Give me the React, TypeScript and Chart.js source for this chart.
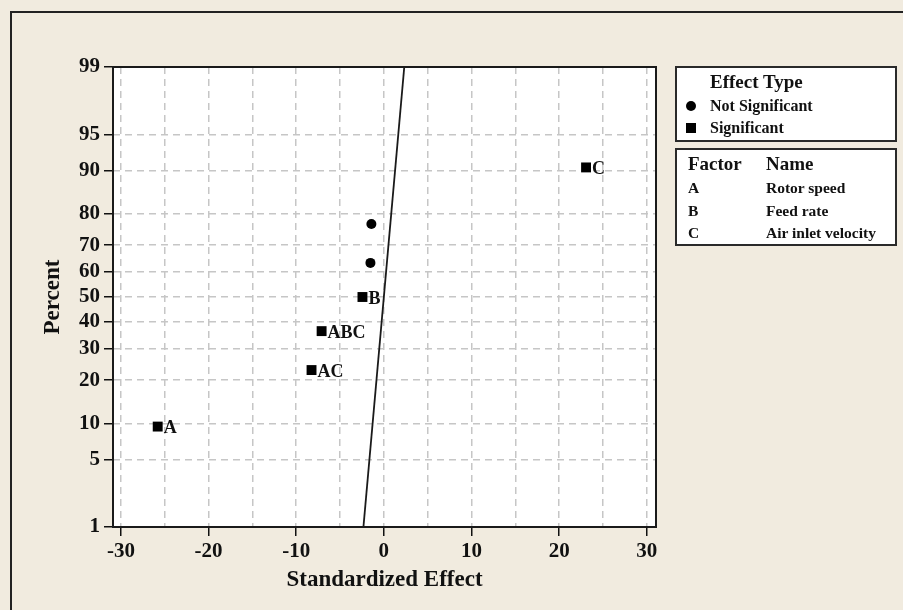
import React, { useEffect, useRef } from 'react';
import { Chart, registerables } from 'chart.js';
Chart.register(...registerables);

// ---- data ----
const sigLabels = ['A', 'AC', 'ABC', 'B', 'C'];
const sigEffects = [-25.8, -8.25, -7.1, -2.44, 23.07];
const sigPercents = [9.5, 23, 36.5, 50, 90.5];
const nsEffects = [-1.53, -1.42];
const nsPercents = [63.5, 77];
const lineEffects = [-2.33, 2.33];
const linePercents = [1, 99];
const yTickPercents = [1, 5, 10, 20, 30, 40, 50, 60, 70, 80, 90, 95, 99];
const xTickValues = [-30, -25, -20, -15, -10, -5, 0, 5, 10, 15, 20, 25, 30];
const factorCodes = ['A', 'B', 'C'];
const factorNames = ['Rotor speed', 'Feed rate', 'Air inlet velocity'];

const SERIF = '"Liberation Serif", "Times New Roman", serif';
const INK = '#111';

// inverse normal CDF (Acklam) for the probability axis
function probit(p: number): number {
  const a = [-3.969683028665376e1, 2.209460984245205e2, -2.759285104469687e2, 1.38357751867269e2, -3.066479806614716e1, 2.506628277459239];
  const b = [-5.447609879822406e1, 1.615858368580409e2, -1.556989798598866e2, 6.680131188771972e1, -1.328068155288572e1];
  const c = [-7.784894002430293e-3, -3.223964580411365e-1, -2.400758277161838, -2.549732539343734, 4.374664141464968, 2.938163982698783];
  const d = [7.784695709041462e-3, 3.224671290700398e-1, 2.445134137142996, 3.754408661907416];
  const pl = 0.02425;
  if (p < pl) {
    const q = Math.sqrt(-2 * Math.log(p));
    return (((((c[0] * q + c[1]) * q + c[2]) * q + c[3]) * q + c[4]) * q + c[5]) / ((((d[0] * q + d[1]) * q + d[2]) * q + d[3]) * q + 1);
  }
  if (p <= 1 - pl) {
    const q = p - 0.5;
    const r = q * q;
    return ((((((a[0] * r + a[1]) * r + a[2]) * r + a[3]) * r + a[4]) * r + a[5]) * q) / (((((b[0] * r + b[1]) * r + b[2]) * r + b[3]) * r + b[4]) * r + 1);
  }
  const q = Math.sqrt(-2 * Math.log(1 - p));
  return -(((((c[0] * q + c[1]) * q + c[2]) * q + c[3]) * q + c[4]) * q + c[5]) / ((((d[0] * q + d[1]) * q + d[2]) * q + d[3]) * q + 1);
}

const areaPlugin = {
  id: 'areaFrame',
  beforeDraw(chart: any) {
    const { ctx, chartArea: a } = chart;
    ctx.save();
    ctx.fillStyle = '#ffffff';
    ctx.fillRect(a.left, a.top, a.right - a.left, a.bottom - a.top);
    ctx.restore();
  },
  afterDraw(chart: any) {
    const { ctx, chartArea: a } = chart;
    ctx.save();
    ctx.strokeStyle = '#1a1a1a';
    ctx.lineWidth = 2;
    ctx.strokeRect(a.left, a.top, a.right - a.left, a.bottom - a.top);
    ctx.restore();
  },
};

const labelPlugin = {
  id: 'pointLabels',
  afterDatasetsDraw(chart: any) {
    const meta = chart.getDatasetMeta(2);
    const ctx = chart.ctx;
    ctx.save();
    ctx.font = `bold 18px ${SERIF}`;
    ctx.fillStyle = INK;
    ctx.textAlign = 'left';
    ctx.textBaseline = 'middle';
    meta.data.forEach((el: any, i: number) => {
      ctx.fillText(sigLabels[i], el.x + 6, el.y + 2);
    });
    ctx.restore();
  },
};

export default function App() {
  const ref = useRef<HTMLCanvasElement>(null);

  useEffect(() => {
    if (!ref.current) return;
    const chart = new Chart(ref.current, {
      type: 'scatter',
      data: {
        datasets: [
          {
            type: 'line',
            label: 'Fit',
            data: lineEffects.map((x, i) => ({ x, y: probit(linePercents[i] / 100) })),
            borderColor: '#1a1a1a',
            borderWidth: 1.8,
            pointRadius: 0,
            showLine: true,
            fill: false,
          } as any,
          {
            label: 'Not Significant',
            data: nsEffects.map((x, i) => ({ x, y: probit(nsPercents[i] / 100) })),
            pointStyle: 'circle',
            pointRadius: 5,
            backgroundColor: '#000',
            borderColor: '#000',
            borderWidth: 0,
          },
          {
            label: 'Significant',
            data: sigEffects.map((x, i) => ({ x, y: probit(sigPercents[i] / 100) })),
            pointStyle: 'rect',
            pointRadius: 7,
            backgroundColor: '#000',
            borderColor: '#000',
            borderWidth: 0,
          },
        ],
      },
      options: {
        responsive: false,
        animation: false,
        devicePixelRatio: 1,
        layout: { padding: { left: 30, right: 247, top: 67, bottom: 0 } },
        plugins: { legend: { display: false }, tooltip: { enabled: false } },
        scales: {
          x: {
            type: 'linear',
            min: -30.9,
            max: 31.05,
            afterBuildTicks: (s: any) => {
              s.ticks = xTickValues.map((v) => ({ value: v }));
            },
            afterFit: (s: any) => {
              s.height = 83;
            },
            ticks: {
              autoSkip: false,
              maxRotation: 0,
              padding: 3,
              color: INK,
              font: { family: SERIF, size: 21, weight: 'bold' },
              callback: (v: any) => (Number(v) % 10 === 0 ? String(v) : ''),
            },
            grid: {
              color: '#c6c6c6',
              lineWidth: 1.5,
              drawTicks: true,
              tickLength: 9,
              tickWidth: 1.5,
              tickBorderDash: [],
              tickColor: (ctx: any) => (ctx.tick && ctx.tick.value % 10 === 0 ? INK : 'rgba(0,0,0,0)'),
            },
            border: { display: false, dash: [7, 5] },
            title: {
              display: true,
              text: 'Standardized Effect',
              color: INK,
              font: { family: SERIF, size: 23, weight: 'bold' },
              padding: { top: 0, bottom: 16 },
            },
          },
          y: {
            type: 'linear',
            min: probit(0.01),
            max: probit(0.99),
            afterBuildTicks: (s: any) => {
              s.ticks = yTickPercents.map((p) => ({ value: probit(p / 100) }));
            },
            afterFit: (s: any) => {
              s.width = 83;
            },
            ticks: {
              autoSkip: false,
              padding: 4,
              color: INK,
              font: { family: SERIF, size: 21, weight: 'bold' },
              callback: (_v: any, i: number) => String(yTickPercents[i]),
            },
            grid: {
              color: '#c6c6c6',
              lineWidth: 1.5,
              drawTicks: true,
              tickLength: 9,
              tickWidth: 1.5,
              tickBorderDash: [],
              tickColor: INK,
            },
            border: { display: false, dash: [7, 5] },
            title: {
              display: true,
              text: 'Percent',
              color: INK,
              font: { family: SERIF, size: 23, weight: 'bold' },
              padding: { top: 9, bottom: 0 },
            },
          },
        },
      } as any,
      plugins: [areaPlugin, labelPlugin],
    });
    return () => chart.destroy();
  }, []);

  const txt = (left: number, top: number, size: number, s: string) => (
    <div
      key={`${left}-${top}-${s}`}
      style={{
        position: 'absolute',
        left,
        top,
        fontFamily: SERIF,
        fontWeight: 'bold',
        fontSize: size,
        lineHeight: 1,
        color: INK,
        whiteSpace: 'nowrap',
      }}
    >
      {s}
    </div>
  );

  const rowTops = [180, 203, 225];

  return (
    <div
      style={{
        position: 'fixed',
        left: 0,
        top: 0,
        width: 903,
        height: 610,
        background: '#f1ebdf',
        overflow: 'hidden',
      }}
    >
      <div
        style={{
          position: 'absolute',
          left: 10,
          top: 11,
          width: 910,
          height: 620,
          borderLeft: '2px solid #222',
          borderTop: '2px solid #222',
        }}
      />
      <canvas ref={ref} width={903} height={610} style={{ position: 'absolute', left: 0, top: 0 }} />

      {/* Effect Type box */}
      <div
        style={{
          position: 'absolute',
          left: 675,
          top: 66,
          width: 218,
          height: 72,
          background: '#fff',
          border: '2px solid #2a2a2a',
        }}
      />
      {txt(710, 72, 19, 'Effect Type')}
      <div style={{ position: 'absolute', left: 686, top: 101, width: 10, height: 10, borderRadius: 5, background: '#000' }} />
      {txt(710, 98, 16, 'Not Significant')}
      <div style={{ position: 'absolute', left: 686, top: 123, width: 10, height: 10, background: '#000' }} />
      {txt(710, 120, 16, 'Significant')}

      {/* Factor box */}
      <div
        style={{
          position: 'absolute',
          left: 675,
          top: 148,
          width: 218,
          height: 94,
          background: '#fff',
          border: '2px solid #2a2a2a',
        }}
      />
      {txt(688, 154, 19, 'Factor')}
      {txt(766, 154, 19, 'Name')}
      {factorCodes.map((c, i) => txt(688, rowTops[i], 15.5, c))}
      {factorNames.map((n, i) => txt(766, rowTops[i], 15.5, n))}
    </div>
  );
}
